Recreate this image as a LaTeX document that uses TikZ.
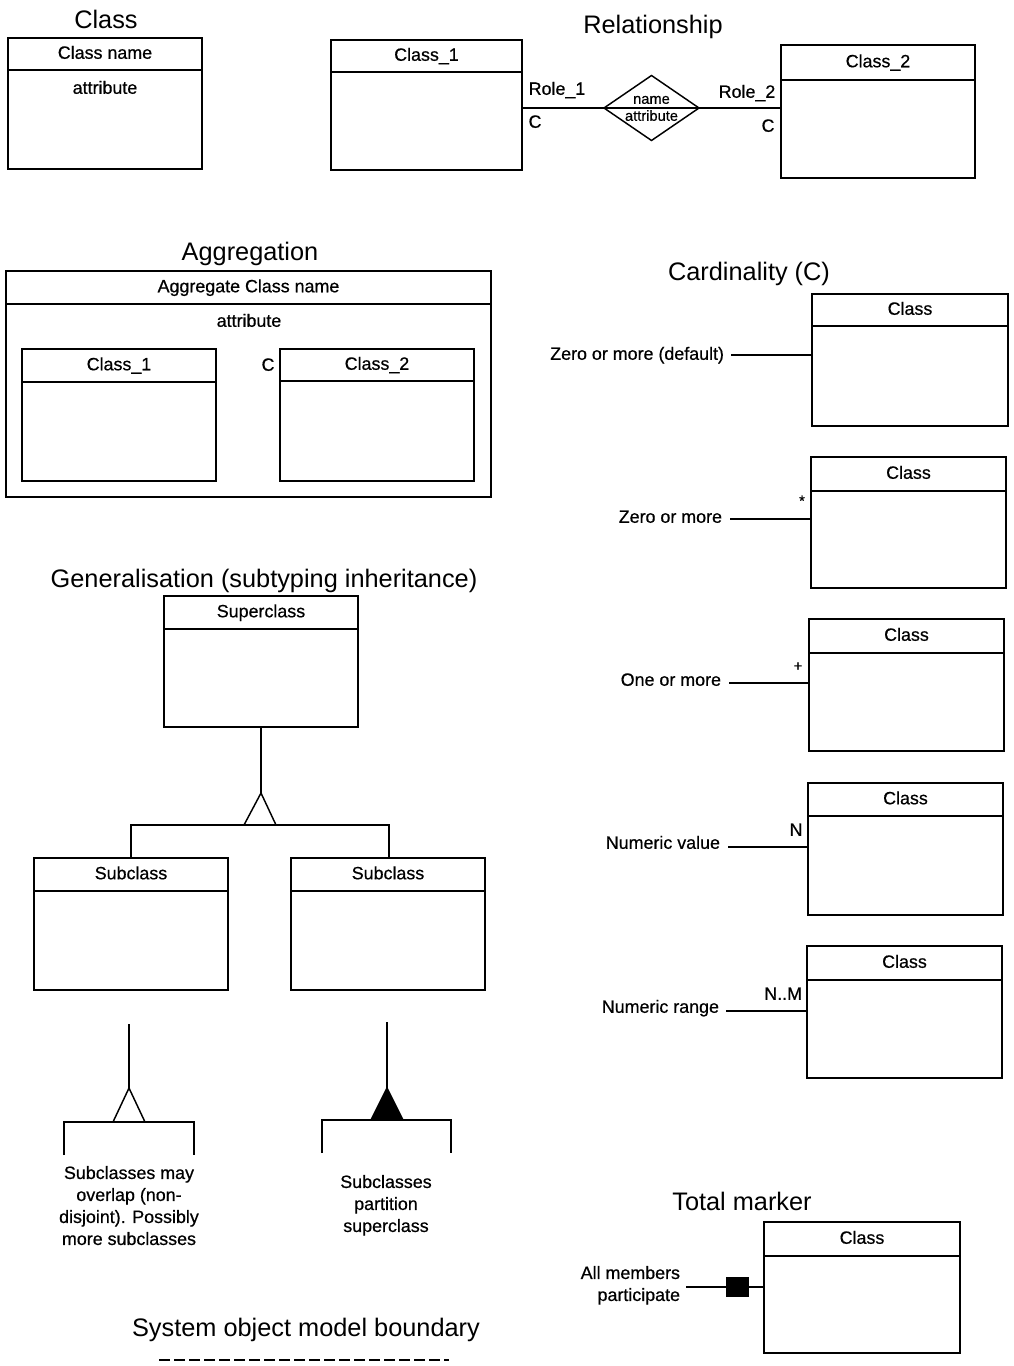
\documentclass[tikz,border=0pt]{standalone}
\usepackage{fontspec}
\setmainfont{Liberation Sans}
\newfontfamily\lblfont{Liberation Sans}[FakeBold=0.6]
\usetikzlibrary{fit,shapes.geometric}

% \umlclass{name}{x1}{y1}{x2}{y2}{header y}{class name}
\newcommand{\umlclass}[7]{%
  \node[classbox, fit={(#2,#3) (#4,#5)}] (#1) {};
  \draw (#2,#6) -- (#4,#6);
  \node[lbl] (#1-name) at ({(#2+#4)/2},{(#3+#6)/2}) {#7};
}

\begin{document}
\begin{tikzpicture}[x=0.75pt, y=-0.75pt, line width=1.1pt,
  every node/.style={inner sep=0pt, outer sep=0pt},
  title/.style={font=\fontsize{19}{23}\selectfont, text height=0.72em, text depth=0pt},
  lbl/.style={font=\lblfont\fontsize{13.4}{16.5}\selectfont, text height=0.72em, text depth=0pt},
  para/.style={font=\lblfont\fontsize{13.4}{16.5}\selectfont},
  tiny/.style={font=\lblfont\fontsize{11}{13}\selectfont, text height=0.72em, text depth=0pt},
  classbox/.style={draw, rectangle, inner sep=0pt}]

\useasboundingbox (0,0) rectangle (1013,1366);

% ---------- Class ----------
\node[title] (t-class) at (106,24) {Class};
\umlclass{cls}{8}{38}{202}{169}{70}{Class name}
\node[lbl] (cls-attr) at (105,89) {attribute};

% ---------- Relationship ----------
\node[title] (t-rel) at (653,29) {Relationship};
\umlclass{r1}{331}{40}{522}{170}{72}{Class\_1}
\umlclass{r2}{781}{45}{975}{178}{80}{Class\_2}
\node[draw, diamond, minimum width=71.25pt, minimum height=48.75pt] (rel) at (651.5,108) {};
\draw (rel.west) -- (rel.east);
\node[tiny] (rel-name) at (651.5,99) {name};
\node[tiny] (rel-attr) at (651.5,116) {attribute};
\draw (rel.west -| r1.east) -- (rel.west);
\draw (rel.east) -- (rel.east -| r2.west);
\node[lbl] (role1) at (557,90) {Role\_1};
\node[lbl] (c1) at (535,123) {C};
\node[lbl] (role2) at (747,93) {Role\_2};
\node[lbl] (c2) at (768,127) {C};

% ---------- Aggregation ----------
\node[title] (t-agg) at (250,256) {Aggregation};
\umlclass{agg}{6}{271}{491}{497}{304}{Aggregate Class name}
\node[lbl] (agg-attr) at (249,322) {attribute};
\umlclass{a1}{22}{349}{216}{481}{382}{Class\_1}
\umlclass{a2}{280}{349}{474}{481}{381}{Class\_2}
\node[lbl] (agg-c) at (268,366) {C};

% ---------- Generalisation ----------
\node[title] (t-gen) at (264,583) {Generalisation (subtyping inheritance)};
\umlclass{sup}{164}{596}{358}{727}{629}{Superclass}
\umlclass{sub1}{34}{858}{228}{990}{891}{Subclass}
\umlclass{sub2}{291}{858}{485}{990}{891}{Subclass}
\coordinate (g-apex) at (261,793);
\draw (sup.south) -- (g-apex);
\draw (g-apex) -- (244,825) -- (276,825) -- cycle;
\draw (sub1.north -| 131,0) -- (131,825) -- (389,825) -- (sub2.north -| 389,0);

% overlapping subclasses symbol
\coordinate (ov-top) at (129,1024);
\coordinate (ov-apex) at (129,1088);
\draw (ov-top) -- (ov-apex);
\draw (ov-apex) -- (113,1122) -- (145,1122) -- cycle;
\draw (64,1155) -- (64,1122) -- (194,1122) -- (194,1155);
\node[para, align=center, anchor=north] (ov-txt) at (129,1166)
  {Subclasses may\\overlap (non-\\disjoint). Possibly\\more subclasses};

% partitioning subclasses symbol
\coordinate (pt-top) at (387,1022);
\coordinate (pt-apex) at (387,1088);
\draw (pt-top) -- (pt-apex);
\filldraw (pt-apex) -- (371,1120) -- (403,1120) -- cycle;
\draw (322,1153) -- (322,1120) -- (451,1120) -- (451,1153);
\node[para, align=center, anchor=north] (pt-txt) at (386,1175)
  {Subclasses\\partition\\superclass};

% ---------- System boundary ----------
\node[title] (t-sys) at (306,1332) {System object model boundary};
\coordinate (sys-a) at (159,1360);
\coordinate (sys-b) at (449,1360);
\draw[dash pattern=on 8.25pt off 3pt] (sys-a) -- (sys-b);

% ---------- Cardinality ----------
\node[title] (t-card) at (749,276) {Cardinality (C)};

\umlclass{k1}{812}{294}{1008}{426}{326}{Class}
\node[lbl, anchor=east] (k1-l) at (724,355) {Zero or more (default)};
\coordinate (k1-s) at (731,355);
\draw (k1-s) -- (k1-s -| k1.west);

\umlclass{k2}{811}{457}{1006}{588}{491}{Class}
\node[lbl, anchor=east] (k2-l) at (722,518) {Zero or more};
\coordinate (k2-s) at (730,519);
\draw (k2-s) -- (k2-s -| k2.west);
\node[tiny] (k2-m) at (802,501) {*};

\umlclass{k3}{809}{619}{1004}{751}{653}{Class}
\node[lbl, anchor=east] (k3-l) at (721,681) {One or more};
\coordinate (k3-s) at (729,683);
\draw (k3-s) -- (k3-s -| k3.west);
\node[tiny] (k3-m) at (798,666) {+};

\umlclass{k4}{808}{783}{1003}{915}{816}{Class}
\node[lbl, anchor=east] (k4-l) at (720,844) {Numeric value};
\coordinate (k4-s) at (728,847);
\draw (k4-s) -- (k4-s -| k4.west);
\node[lbl] (k4-m) at (796,831) {N};

\umlclass{k5}{807}{946}{1002}{1078}{980}{Class}
\node[lbl, anchor=east] (k5-l) at (719,1008) {Numeric range};
\coordinate (k5-s) at (726,1011);
\draw (k5-s) -- (k5-s -| k5.west);
\node[lbl, anchor=east] (k5-m) at (802,995) {N..M};

% ---------- Total marker ----------
\node[title] (t-tot) at (742,1206) {Total marker};
\umlclass{tm}{764}{1222}{960}{1353}{1256}{Class}
\node[fill, minimum width=17.25pt, minimum height=15pt] (tm-sq) at (737.5,1287) {};
\coordinate (tm-s) at (686,1287);
\draw (tm-s) -- (tm-sq.west);
\draw (tm-sq.east) -- (tm-sq.east -| tm.west);
\node[para, align=right, anchor=north east] (tm-l) at (680,1266) {All members\\participate};

\end{tikzpicture}
\end{document}
